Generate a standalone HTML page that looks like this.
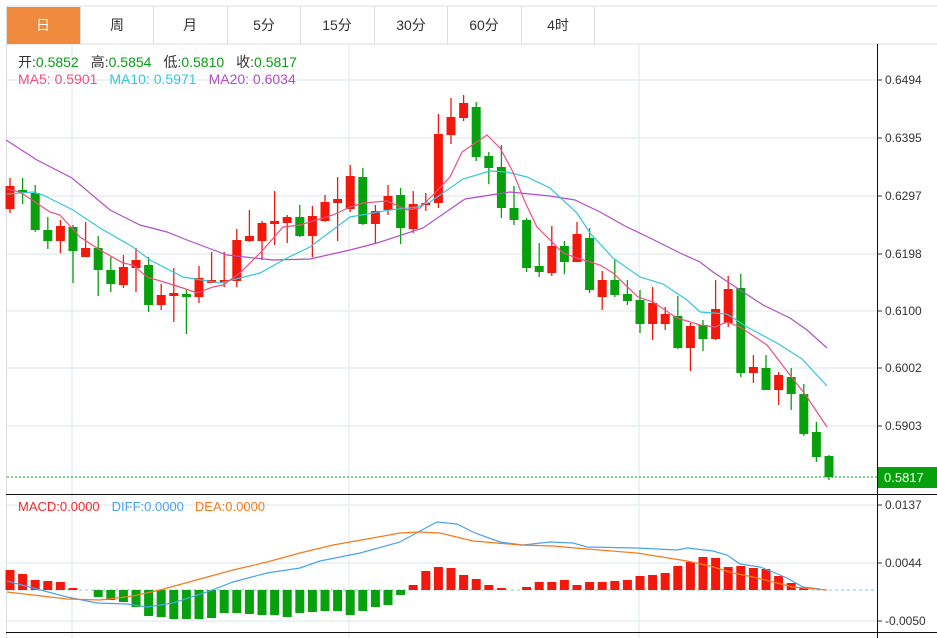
<!DOCTYPE html>
<html><head><meta charset="utf-8"><style>
body{margin:0;background:#fff;width:937px;height:638px;overflow:hidden;font-family:"Liberation Sans","Noto Sans CJK SC",sans-serif}
</style></head><body>
<svg id="s" width="937" height="638" xmlns="http://www.w3.org/2000/svg" style="position:absolute;left:0;top:0">
<rect x="0" y="0" width="937" height="638" fill="#fff"/>
<line x1="6" y1="6" x2="937" y2="6" stroke="#ddd"/>
<line x1="6" y1="44" x2="937" y2="44" stroke="#ddd"/>
<line x1="6.5" y1="6" x2="6.5" y2="638" stroke="#ddd"/>
<rect x="7" y="7" width="73" height="37" fill="#f08a3c"/>
<g stroke="#ddd"><line x1="80.5" y1="6" x2="80.5" y2="44"/><line x1="153.5" y1="6" x2="153.5" y2="44"/><line x1="227.5" y1="6" x2="227.5" y2="44"/><line x1="300.5" y1="6" x2="300.5" y2="44"/><line x1="374.5" y1="6" x2="374.5" y2="44"/><line x1="447.5" y1="6" x2="447.5" y2="44"/><line x1="521.5" y1="6" x2="521.5" y2="44"/><line x1="594.5" y1="6" x2="594.5" y2="44"/></g>
<g font-size="14" fill="#333" text-anchor="middle"><text x="43" y="30" fill="#fff">日</text><text x="117" y="30">周</text><text x="190" y="30">月</text><text x="264" y="30">5分</text><text x="337" y="30">15分</text><text x="411" y="30">30分</text><text x="484" y="30">60分</text><text x="558" y="30">4时</text></g>
<g id="grid" stroke="#e6edf3" stroke-width="1.5"></g>
<g id="plot"></g>
<line x1="6" y1="494.5" x2="937" y2="494.5" stroke="#111"/>
<line x1="6" y1="632.5" x2="937" y2="632.5" stroke="#111"/>
<line x1="877.5" y1="44" x2="877.5" y2="638" stroke="#111"/>
<g font-size="14"><text x="18" y="67" fill="#333">开:<tspan fill="#0a9c14">0.5852</tspan><tspan dx="12">高:</tspan><tspan fill="#0a9c14">0.5854</tspan><tspan dx="12">低:</tspan><tspan fill="#0a9c14">0.5810</tspan><tspan dx="12">收:</tspan><tspan fill="#0a9c14">0.5817</tspan></text>
<text x="18" y="84" fill="#ef4f7f">MA5: 0.5901<tspan dx="12" fill="#36c6dc">MA10: 0.5971</tspan><tspan dx="12" fill="#b14fc6">MA20: 0.6034</tspan></text></g>
<text x="18" y="511" font-size="13" fill="#f02b2b">MACD:0.0000<tspan dx="12" fill="#4aa3f0">DIFF:0.0000</tspan><tspan dx="11" fill="#f57a1e">DEA:0.0000</tspan></text>
<g id="axis" font-size="12" fill="#333"></g>
<rect x="878" y="467" width="59" height="21" fill="#06a10c"/>
<text x="884" y="482" font-size="13" fill="#fff">0.5817</text>
</svg>
<script>
var NS="http://www.w3.org/2000/svg";
function el(p,t,a){var e=document.createElementNS(NS,t);for(var k in a)e.setAttribute(k,a[k]);document.getElementById(p).appendChild(e);return e;}
[80,138,196,254,311,368,426].forEach(function(y){el("grid","line",{x1:7,x2:877,y1:y,y2:y});});
[505,563,621].forEach(function(y){el("grid","line",{x1:7,x2:877,y1:y,y2:y});});
[72,349,639].forEach(function(x){el("grid","line",{x1:x,x2:x,y1:44,y2:638});});
var labs=[[80,"0.6494"],[138,"0.6395"],[196,"0.6297"],[254,"0.6198"],[311,"0.6100"],[368,"0.6002"],[426,"0.5903"],[505,"0.0137"],[563,"0.0044"],[621,"-0.0050"]];
labs.forEach(function(l){el("axis","line",{x1:878,x2:882,y1:l[0],y2:l[0],stroke:"#333"});var t=el("axis","text",{x:885,y:l[0]+4});t.textContent=l[1];});
var C=[[209,186,178,213],[192,190,178,204,'g'],[193,230,185,232],[230,241,217,249],[241,226,220,253],[227,251,225,283],[257,248,222,257],[248,270,236,296],[270,284,257,292],[285,267,255,288],[268,260,248,292],[265,305,257,312],[305,295,284,310],[296,293,268,322],[294,297,290,334],[297,278,266,303],[283,280,252,283],[282,280,252,287],[281,240,229,287],[241,236,210,242],[241,223,221,260],[224,221,191,245],[223,217,215,243],[217,236,205,237],[236,216,206,257],[221,202,195,222],[203,199,177,241],[209,176,165,212],[177,224,168,225],[224,211,205,244],[210,196,185,215],[195,228,188,244],[229,204,191,233],[205,203,193,211],[203,134,114,208],[135,117,98,144],[118,103,95,121],[107,157,102,161],[156,168,152,184],[167,208,145,218],[208,220,186,225],[220,268,218,272],[266,272,243,277],[273,246,226,276],[246,262,241,274],[262,234,222,262],[238,290,228,293],[297,280,271,310],[280,295,260,297],[294,301,280,305],[300,324,290,333],[324,303,287,340],[324,314,307,330],[316,348,296,349],[348,326,323,371],[325,339,320,351],[339,309,280,340],[323,289,276,327],[288,373,274,377],[373,367,355,383],[368,390,355,390],[390,375,372,405],[377,394,368,410],[394,434,384,436],[432,457,422,462],[456,477,455,480]];
var RED="#f2180c",GRN="#06a10c";
C.forEach(function(c,i){var x=10+12.6*i;var up=c[4]?false:c[0]>c[1];var col=up?RED:GRN;
el("plot","line",{x1:x,x2:x,y1:c[2],y2:c[3],stroke:col,"stroke-width":1.3});
var t=Math.min(c[0],c[1]),h=Math.max(2,Math.abs(c[0]-c[1]));el("plot","rect",{x:x-4.5,y:t,width:9,height:h,fill:col});});
function pl(pts,col){el("plot","polyline",{points:pts,fill:"none",stroke:col,"stroke-width":1.2});}
pl("6,140 37,160 72,178 110,210 140,225 167,232 187,240 227,255 273,260 310,259 350,250 377,243 423,228 465,199 510,192 550,196 575,200 600,212 625,226 650,238 680,253 700,262 713,272 740,290 763,305 790,318 807,330 827,348","#b14fc6");
pl("7,194 33,192 43,195 73,210 100,228 133,247 150,260 183,277 220,283 260,273 287,258 310,247 350,217 390,210 417,207 430,202 463,179 490,171 507,172 527,177 550,188 577,213 590,233 613,258 640,277 663,284 687,300 700,312 727,314 747,327 777,343 802,359 827,386","#36c6dc");
pl("7,189 20,192 50,212 60,215 80,237 100,250 123,263 133,265 147,277 167,283 183,288 197,293 213,287 223,285 240,273 263,250 283,227 300,225 333,215 350,207 363,203 387,201 407,210 420,208 433,195 450,177 462,152 487,135 500,148 513,172 525,202 537,227 563,253 577,258 600,265 613,273 638,297 653,302 677,318 700,325 715,327 727,322 740,327 767,345 790,375 807,397 827,427","#ef4f7f");
el("plot","line",{x1:7,x2:877,y1:477,y2:477,stroke:"#06a10c","stroke-dasharray":"2,2"});
el("plot","line",{x1:7,x2:877,y1:590,y2:590,stroke:"#a8dcef","stroke-dasharray":"3,3","stroke-width":1.5});
var M=[570,574,580,581,582,588,590,597,600,602,607,616,617,619,619,619,618,613,613,614,615,615,617,613,612,611,611,615,611,607,605,595,585,571,567,568,575,579,585,588,590,587,582,582,580,585,582,582,581,580,576,575,573,566,562,557,558,567,566,568,569,576,583,588,590];
M.forEach(function(v,i){if(i>=66)return;var x=10+12.6*i;if(Math.abs(v-590)<1)return;var col=v<590?RED:GRN;el("plot","rect",{x:x-4.5,y:Math.min(v,590),width:9,height:Math.abs(v-590),fill:col});});
pl("7,581 33,588 67,597 97,603 127,604 147,607 173,603 207,592 233,582 267,573 300,568 320,561 360,553 400,542 420,531 437,522 457,524 475,533 500,542 523,545 550,542 573,543 587,547 637,548 677,550 687,548 713,551 727,555 740,564 760,567 773,572 787,578 803,587 820,589","#4aa3f0");
pl("7,592 33,595 67,599 100,600 133,596 160,590 200,579 233,570 267,562 300,553 333,545 367,539 400,533 420,532 440,533 473,541 497,543 520,545 553,546 587,549 637,553 687,561 710,566 733,573 753,577 773,582 793,587 827,590","#f57a1e");
</script>
</body></html>
